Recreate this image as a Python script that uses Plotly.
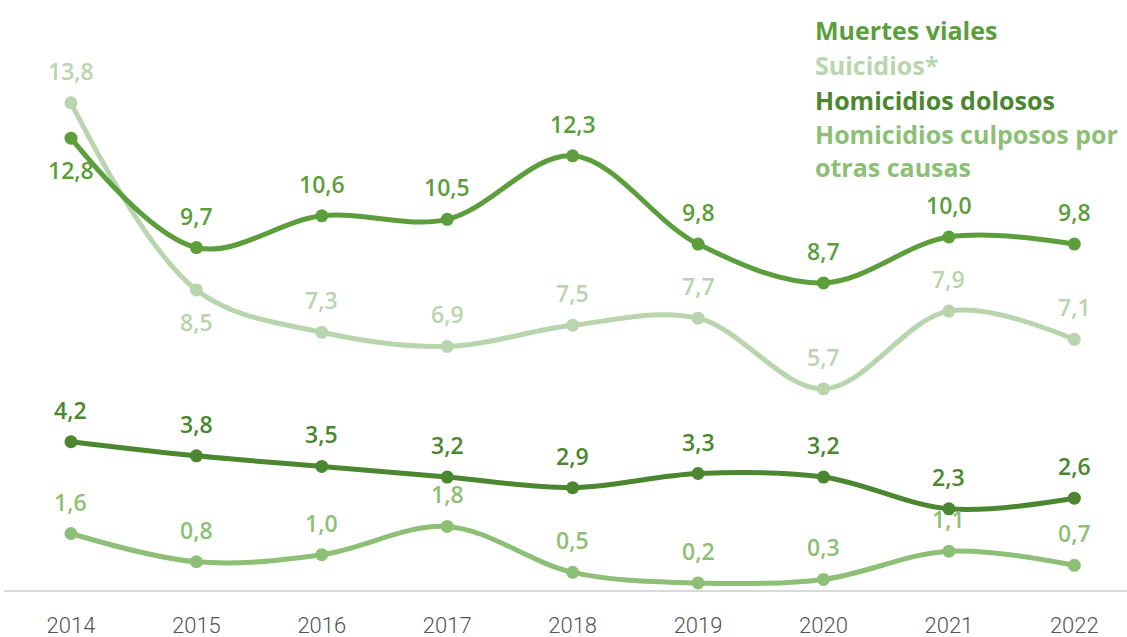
import plotly.graph_objects as go

years = [2014, 2015, 2016, 2017, 2018, 2019, 2020, 2021, 2022]
series_names = ["Muertes viales", "Suicidios*", "Homicidios dolosos", "Homicidios culposos por<br>otras causas"]
muertes_viales = [12.8, 9.7, 10.6, 10.5, 12.3, 9.8, 8.7, 10.0, 9.8]
suicidios = [13.8, 8.5, 7.3, 6.9, 7.5, 7.7, 5.7, 7.9, 7.1]
homicidios_dolosos = [4.2, 3.8, 3.5, 3.2, 2.9, 3.3, 3.2, 2.3, 2.6]
homicidios_culposos = [1.6, 0.8, 1.0, 1.8, 0.5, 0.2, 0.3, 1.1, 0.7]

# label placement: +1 above, -1 below
pos_muertes = [-1, 1, 1, 1, 1, 1, 1, 1, 1]
pos_suicidios = [1, -1, 1, 1, 1, 1, 1, 1, 1]
pos_dolosos = [1] * 9
pos_culposos = [1] * 9

colors = ["#5c9e3c", "#b8d5ae", "#4b8630", "#8dbf76"]
all_series = [muertes_viales, suicidios, homicidios_dolosos, homicidios_culposos]
all_pos = [pos_muertes, pos_suicidios, pos_dolosos, pos_culposos]

fig = go.Figure()
for idx in [1, 3, 2, 0]:
    fig.add_trace(go.Scatter(
        x=years, y=all_series[idx], mode="lines+markers",
        line=dict(color=colors[idx], width=5, shape="spline", smoothing=1),
        marker=dict(color=colors[idx], size=13),
        hoverinfo="skip", showlegend=False, cliponaxis=False,
    ))

annotations = []
for vals, pos, col in zip(all_series, all_pos, colors):
    for xv, yv, p in zip(years, vals, pos):
        annotations.append(dict(
            x=xv, y=yv, xref="x", yref="y",
            text=f"{yv:.1f}".replace(".", ","),
            showarrow=False, yshift=32 * p, yanchor="middle",
            font=dict(family="Open Sans", size=23, color=col, weight=600),
        ))

legend_y_px = [30, 65, 100, 150]
W, H = 1127, 637
for name, col, ypx in zip(series_names, colors, legend_y_px):
    annotations.append(dict(
        x=(813 - 4) / (W - 4), y=1 - (ypx - 10) / (590 - 10),
        xref="paper", yref="paper", xanchor="left", yanchor="middle",
        align="left", text=name, showarrow=False,
        font=dict(family="Open Sans", size=25, color=col, weight=700),
    ))

fig.update_layout(
    width=W, height=H,
    margin=dict(l=4, r=0, t=10, b=47),
    paper_bgcolor="white", plot_bgcolor="white",
    annotations=annotations,
    xaxis=dict(
        range=[2013.466, 2022.42], tickvals=years, ticktext=[str(y) for y in years],
        showgrid=False, zeroline=False, showline=True, linecolor="#d9d9d9", linewidth=2,
        ticks="outside", ticklen=15, tickcolor="rgba(0,0,0,0)",
        tickfont=dict(family="Roboto", size=22, color="#555555", weight=300),
        fixedrange=True, automargin=False,
    ),
    yaxis=dict(range=[0, 16.43], visible=False, showgrid=False, zeroline=False,
               fixedrange=True, automargin=False),
)

fig.write_html("out.html", config={"displayModeBar": False},
               post_script="document.body.style.margin='0';document.body.style.overflow='hidden';")
